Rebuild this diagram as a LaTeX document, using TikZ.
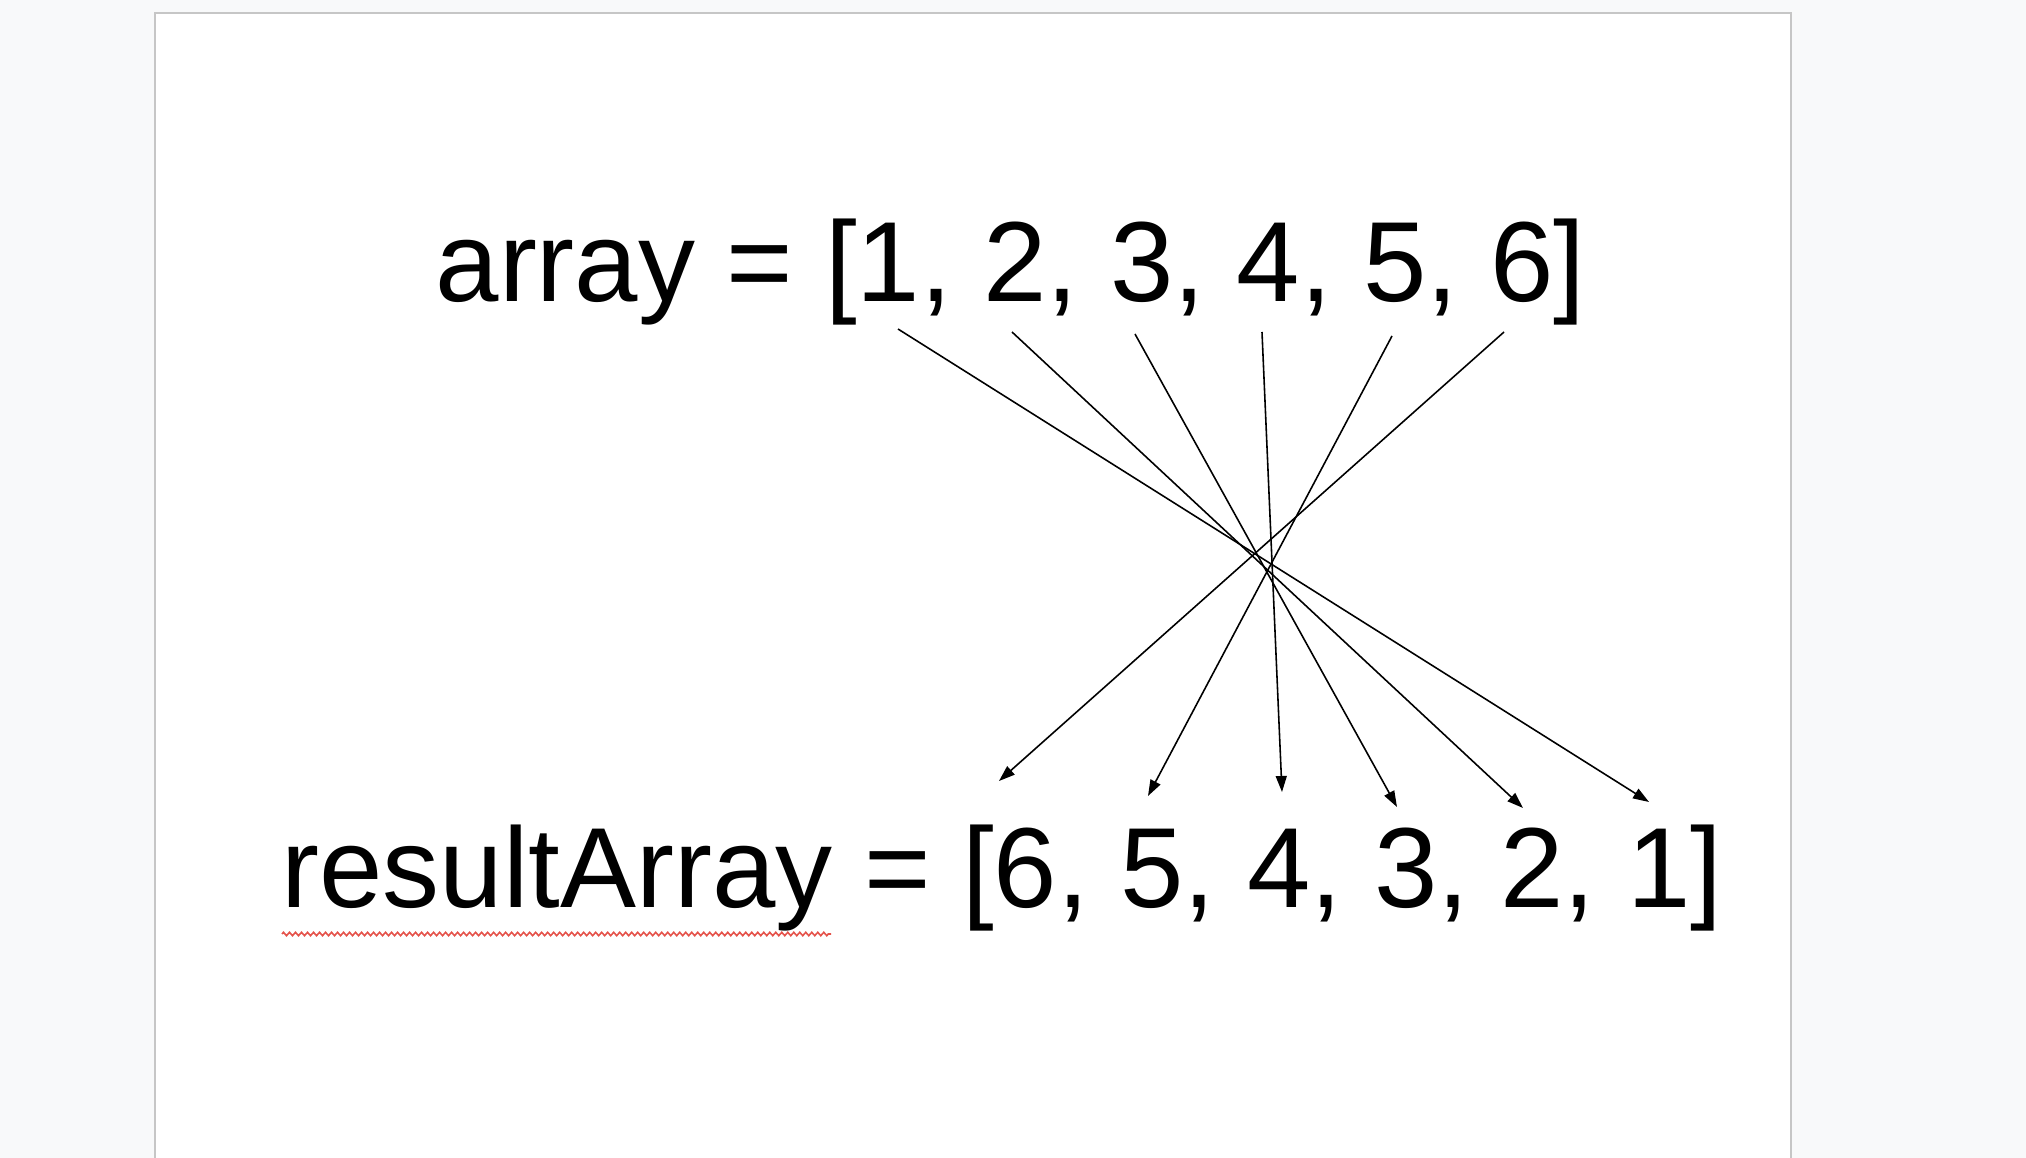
\documentclass[tikz,border=0pt]{standalone}
\usepackage{fontspec}
\setmainfont{Liberation Sans}
\usetikzlibrary{arrows.meta,decorations.pathmorphing}
\definecolor{deskgray}{HTML}{F8F9FA}
\definecolor{pageedge}{HTML}{C6C6C6}
\definecolor{spellred}{HTML}{E5534B}
\tikzset{
	arraytext/.style={inner sep=0pt, anchor=base west, font=\fontsize{32.4}{39}\selectfont},
	swaparrow/.style={line width=0.45pt, -{Triangle[length=0.16cm, width=0.11cm]}},
	spellmark/.style={spellred, line width=0.45pt, decorate, decoration={zigzag, segment length=0.06cm, amplitude=0.017cm}}
}

\begin{document}
\begin{tikzpicture}[x=0.01cm, y=-0.01cm]
			%%%%% START %%%%%
			
			\useasboundingbox (0, 0) rectangle (2026, 1158);
			\fill[deskgray] (0, 0) rectangle (2026, 1158);
			\draw[pageedge, line width=0.02cm, fill=white] (155, 13) rectangle (1791, 1175);
			
			\node[arraytext] (array) at (435, 302) {array = [1, 2, 3, 4, 5, 6]};
			\node[arraytext] (result) at (281, 907) {resultArray = [6, 5, 4, 3, 2, 1]};
			
			\coordinate (spellA) at (282, 934);
			\coordinate (spellB) at (831, 934);
			\draw[spellmark] (spellA) -- (spellB);
			
			\coordinate (a1) at (898, 329);
			\coordinate (a2) at (1012, 332);
			\coordinate (a3) at (1135, 334);
			\coordinate (a4) at (1262, 332);
			\coordinate (a5) at (1392, 336);
			\coordinate (a6) at (1504, 332);
			
			\coordinate (r1) at (1649, 802);
			\coordinate (r2) at (1523, 808);
			\coordinate (r3) at (1397, 807);
			\coordinate (r4) at (1282, 792);
			\coordinate (r5) at (1148, 796);
			\coordinate (r6) at (999, 781);
			
			\draw[swaparrow] (a1) -- (r1);
			\draw[swaparrow] (a2) -- (r2);
			\draw[swaparrow] (a3) -- (r3);
			\draw[swaparrow] (a4) -- (r4);
			\draw[swaparrow] (a5) -- (r5);
			\draw[swaparrow] (a6) -- (r6);
			
			%%%%% END %%%%%
\end{tikzpicture}
\end{document}
